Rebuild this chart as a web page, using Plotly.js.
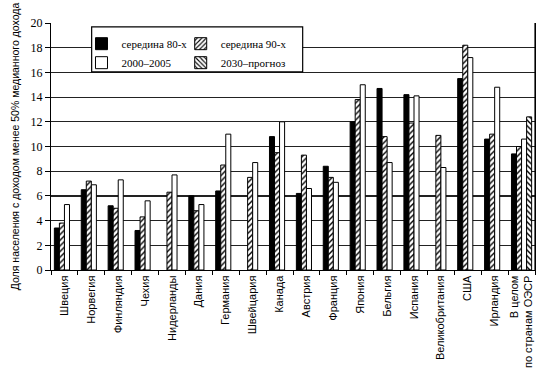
<!DOCTYPE html>
<html>
<head>
<meta charset="utf-8">
<script src="https://cdn.plot.ly/plotly-3.0.1.min.js"></script>
<style>html,body{margin:0;padding:0;background:#fff;}#chart{width:544px;height:376px;}</style>
</head>
<body>
<div id="chart"></div>
<script>
const categories = ["Швеция","Норвегия","Финляндия","Чехия","Нидерланды","Дания","Германия","Швейцария","Канада","Австрия","Франция","Япония","Бельгия","Испания","Великобритания","США","Ирландия","В целом<br>по странам ОЭСР"];
const seriesNames = ["середина 80-х","середина 90-х","2000–2005","2030–прогноз"];
const v80   = [3.4, 6.5, 5.2, 3.2, null, 6.0, 6.4, null, 10.8, 6.2, 8.4, 12.0, 14.7, 14.2, null, 15.5, 10.6, 9.4];
const v90   = [3.8, 7.2, 5.0, 4.3, 6.3, 4.8, 8.5, 7.5, 9.5, 9.3, 7.5, 13.8, 10.8, 11.9, 10.9, 18.2, 11.0, 10.0];
const v2000 = [5.3, 6.9, 7.3, 5.6, 7.7, 5.3, 11.0, 8.7, 12.0, 6.6, 7.1, 15.0, 8.7, 14.1, 8.3, 17.2, 14.8, 10.6];
const v2030 = [null,null,null,null,null,null,null,null,null,null,null,null,null,null,null,null,null, 12.4];
const yTicks = [0,2,4,6,8,10,12,14,16,18,20];

const line = {color:'#000', width:1};
const traces = [
  {type:'bar', name:seriesNames[0], x:categories, y:v80, legend:'legend',
   marker:{color:'#000', line:line}},
  {type:'bar', name:seriesNames[1], x:categories, y:v90, legend:'legend2',
   marker:{color:'#fff', line:line, pattern:{shape:'/', fgcolor:'#000', bgcolor:'#fff', size:4, solidity:0.35}}},
  {type:'bar', name:seriesNames[2], x:categories, y:v2000, legend:'legend',
   marker:{color:'#fff', line:line}},
  {type:'bar', name:seriesNames[3], x:categories, y:v2030, legend:'legend2',
   marker:{color:'#fff', line:line, pattern:{shape:'\\', fgcolor:'#000', bgcolor:'#fff', size:4, solidity:0.35}}}
];

const legendFont = {family:'Liberation Serif, serif', size:11, color:'#000'};
const layout = {
  width:544, height:376,
  margin:{l:51, r:9, t:23, b:105.5},
  paper_bgcolor:'#fff', plot_bgcolor:'#fff',
  barmode:'group', bargap:0.25, bargroupgap:0,
  showlegend:true,
  legend:{x:0.063, y:0.975, xanchor:'left', yanchor:'top', bgcolor:'rgba(0,0,0,0)', borderwidth:0, font:legendFont, orientation:'v', tracegroupgap:0},
  legend2:{x:0.268, y:0.975, xanchor:'left', yanchor:'top', bgcolor:'rgba(0,0,0,0)', borderwidth:0, font:legendFont, orientation:'v', tracegroupgap:0},
  xaxis:{
    type:'category', tickangle:-90, ticks:'outside', tickson:'boundaries', ticklen:4, tickcolor:'#000',
    showline:true, linecolor:'#000', linewidth:1.2, mirror:false, showgrid:false,
    tickfont:{family:'Liberation Sans Narrow, Liberation Sans, Arial, sans-serif', size:11, color:'#000'}
  },
  yaxis:{
    range:[0,20], tickvals:yTicks, ticks:'outside', ticklen:5, tickcolor:'#000',
    showline:true, linecolor:'#000', linewidth:1.2, mirror:true,
    showgrid:true, gridcolor:'#222', gridwidth:1.2, zeroline:false,
    tickfont:{family:'Liberation Serif, serif', size:12, color:'#000'},
    title:{text:'Доля населения с доходом менее 50% медианного дохода', font:{family:'Liberation Sans, Arial, sans-serif', size:10.5, color:'#000'}, standoff:8}
  },
  shapes:[
    {type:'line', xref:'paper', yref:'paper', x0:1, x1:1, y0:0, y1:1, line:{color:'#000', width:1.2}},
    {type:'rect', xref:'paper', yref:'paper', x0:0.084, x1:0.52, y0:0.802, y1:0.984, line:{color:'#000', width:1.2}, fillcolor:'#fff', layer:'above'}
  ]
};

Plotly.newPlot('chart', traces, layout, {displayModeBar:false, staticPlot:true});
</script>
</body>
</html>
